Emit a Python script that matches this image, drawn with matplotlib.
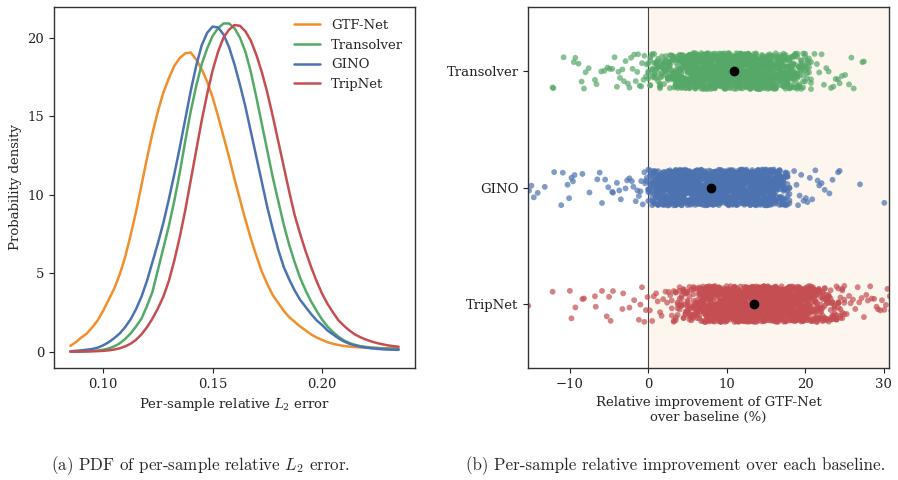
import numpy as np
import pandas as pd
import matplotlib
matplotlib.use("Agg")
import matplotlib.pyplot as plt
import seaborn as sns

# ---- (a) PDF curves at 0.0025 steps ----
err_x = [0.085, 0.0875, 0.090, 0.0925, 0.095, 0.0975, 0.100, 0.1025, 0.105, 0.1075,
         0.110, 0.1125, 0.115, 0.1175, 0.120, 0.1225, 0.125, 0.1275, 0.130, 0.1325,
         0.135, 0.1375, 0.140, 0.1425, 0.145, 0.1475, 0.150, 0.1525, 0.155, 0.1575,
         0.160, 0.1625, 0.165, 0.1675, 0.170, 0.1725, 0.175, 0.1775, 0.180, 0.1825,
         0.185, 0.1875, 0.190, 0.1925, 0.195, 0.1975, 0.200, 0.2025, 0.205, 0.2075,
         0.210, 0.2125, 0.215, 0.2175, 0.220, 0.2225, 0.225, 0.2275, 0.230, 0.2325,
         0.235]
pdf_gtf = [0.37, 0.6, 0.9, 1.15, 1.55, 2.0, 2.6, 3.3, 4.0, 4.9,
           6.0, 7.4, 8.9, 10.6, 12.3, 13.9, 15.3, 16.5, 17.4, 18.2,
           18.7, 19.0, 19.05, 18.6, 18.0, 17.2, 16.2, 15.0, 13.7, 12.4,
           11.0, 9.7, 8.4, 7.2, 6.1, 5.1, 4.3, 3.6, 3.1, 2.6,
           2.2, 1.9, 1.6, 1.35, 1.1, 0.9, 0.75, 0.6, 0.5, 0.42,
           0.36, 0.32, 0.29, 0.27, 0.25, 0.24, 0.23, 0.22, 0.21, 0.21,
           0.2]
pdf_transolver = [0.0, 0.0, 0.01, 0.02, 0.04, 0.07, 0.12, 0.2, 0.33, 0.52,
                  0.8, 1.15, 1.6, 2.1, 2.9, 3.8, 5.2, 6.6, 8.0, 9.6,
                  11.4, 13.4, 15.3, 16.9, 18.3, 19.3, 20.1, 20.6, 20.9, 20.9,
                  20.6, 20.0, 19.1, 17.8, 16.2, 14.5, 12.8, 11.1, 9.6, 8.1,
                  6.8, 5.7, 4.7, 3.9, 3.2, 2.6, 2.05, 1.6, 1.25, 0.95,
                  0.72, 0.55, 0.43, 0.35, 0.3, 0.26, 0.23, 0.21, 0.19, 0.18,
                  0.17]
pdf_gino = [0.02, 0.05, 0.08, 0.12, 0.17, 0.25, 0.4, 0.6, 0.85, 1.15,
            1.55, 2.05, 2.7, 3.5, 4.5, 5.7, 6.9, 8.2, 9.7, 11.3,
            13.0, 14.8, 16.6, 18.2, 19.5, 20.3, 20.7, 20.65, 20.2, 19.4,
            18.3, 17.0, 15.6, 14.0, 12.4, 10.8, 9.2, 7.8, 6.5, 5.4,
            4.6, 3.9, 3.3, 2.85, 2.4, 2.0, 1.7, 1.35, 1.1, 0.85,
            0.65, 0.5, 0.4, 0.32, 0.26, 0.21, 0.18, 0.15, 0.13, 0.12,
            0.11]
pdf_tripnet = [0.0, 0.0, 0.0, 0.01, 0.02, 0.03, 0.05, 0.08, 0.13, 0.21,
               0.33, 0.5, 0.75, 1.1, 1.55, 2.1, 2.75, 3.5, 4.5, 5.8,
               7.3, 9.0, 10.9, 12.8, 14.7, 16.4, 17.9, 19.1, 20.0, 20.5,
               20.8, 20.75, 20.4, 19.8, 18.9, 17.8, 16.5, 15.0, 13.4, 11.8,
               10.2, 8.7, 7.5, 6.4, 5.4, 4.5, 3.7, 3.05, 2.5, 2.0,
               1.65, 1.35, 1.1, 0.92, 0.77, 0.65, 0.55, 0.47, 0.4, 0.35,
               0.31]

# ---- (b) per-sample improvement (%): dense part as value/count, sparse tails as single points ----
baselines = ["Transolver", "GINO", "TripNet"]
mean_improvement = [10.9, 8.0, 13.5]

transolver_core = [0.0, 0.25, 0.5, 0.75, 1.0, 1.25, 1.5, 1.75, 2.0, 2.25, 2.5, 2.75,
                   3.0, 3.25, 3.5, 3.75, 4.0, 4.25, 4.5, 4.75, 5.0, 5.25, 5.5, 5.75,
                   6.0, 6.25, 6.5, 6.75, 7.0, 7.25, 7.5, 7.75, 8.0, 8.25, 8.5, 8.75,
                   9.0, 9.25, 9.5, 9.75, 10.0, 10.25, 10.5, 10.75, 11.0, 11.25, 11.5, 11.75,
                   12.0, 12.25, 12.5, 12.75, 13.0, 13.25, 13.5, 13.75, 14.0, 14.25, 14.5, 14.75,
                   15.0, 15.25, 15.5, 15.75, 16.0, 16.25, 16.5, 16.75, 17.0, 17.25, 17.5, 17.75,
                   18.0, 18.25, 18.5, 18.75, 19.0, 19.25, 19.5, 19.75, 20.0, 20.25, 20.5, 20.75]
transolver_count = [4, 4, 5, 5, 5, 6, 6, 6, 7, 7, 7, 8,
                    8, 9, 10, 11, 12, 13, 14, 16, 17, 18, 19, 20,
                    20, 20, 20, 20, 20, 20, 20, 20, 20, 20, 20, 20,
                    20, 20, 20, 20, 20, 20, 20, 20, 20, 20, 20, 20,
                    20, 20, 20, 20, 20, 20, 20, 20, 19, 19, 18, 18,
                    18, 17, 17, 17, 16, 16, 15, 15, 14, 14, 13, 12,
                    11, 10, 9, 9, 8, 8, 7, 6, 5, 5, 4, 4]
transolver_tail = [-12.2, -12.1, -10.8, -9.5, -9.3, -8.9, -8.5, -8.2, -8.0, -7.6, -6.8,
                   -6.6, -6.0, -5.6, -5.2, -4.9, -4.6, -4.3, -4.0, -3.8, -3.6, -3.3,
                   -3.1, -2.9, -2.6, -2.4, -2.2, -2.0, -1.8, -1.6, -1.4, -1.3, -1.1,
                   -0.9, -0.8, -0.6, -0.5, -0.3, -0.2,
                   21.2, 21.5, 21.8, 22.1, 22.4, 22.7, 23.0, 23.3, 23.6, 23.9, 24.2,
                   24.4, 24.7, 25.1, 25.6, 25.9, 26.2, 27.3, 27.5]

gino_core = [0.0, 0.25, 0.5, 0.75, 1.0, 1.25, 1.5, 1.75, 2.0, 2.25, 2.5, 2.75,
             3.0, 3.25, 3.5, 3.75, 4.0, 4.25, 4.5, 4.75, 5.0, 5.25, 5.5, 5.75,
             6.0, 6.25, 6.5, 6.75, 7.0, 7.25, 7.5, 7.75, 8.0, 8.25, 8.5, 8.75,
             9.0, 9.25, 9.5, 9.75, 10.0, 10.25, 10.5, 10.75, 11.0, 11.25, 11.5, 11.75,
             12.0, 12.25, 12.5, 12.75, 13.0, 13.25, 13.5, 13.75, 14.0, 14.25, 14.5, 14.75,
             15.0, 15.25, 15.5, 15.75, 16.0, 16.25, 16.5, 16.75, 17.0, 17.25, 17.5, 17.75,
             18.0]
gino_count = [5, 7, 9, 11, 13, 15, 17, 19, 20, 21, 21, 21,
              21, 21, 21, 21, 21, 21, 21, 21, 21, 21, 21, 21,
              21, 21, 21, 21, 21, 21, 21, 21, 21, 21, 21, 21,
              21, 21, 21, 21, 21, 21, 21, 21, 21, 21, 21, 21,
              21, 21, 21, 21, 21, 21, 21, 21, 21, 20, 20, 19,
              18, 18, 17, 16, 16, 15, 14, 13, 12, 10, 9, 7,
              5]
gino_tail = [-15.2, -14.9, -14.6, -14.1, -13.2, -12.0, -11.1, -10.9, -10.3, -10.1, -9.8,
             -9.6, -9.4, -8.4, -7.5, -6.5, -6.2, -5.9, -5.5, -5.1, -4.6, -4.5, -4.0,
             -3.7, -3.5, -2.9, -2.7, -2.4, -2.1, -1.9, -1.6, -1.4, -1.2, -1.0, -0.9,
             -0.7, -0.5, -0.4, -0.3, -0.2,
             18.6, 18.9, 19.1, 19.3, 19.5, 19.8, 20.1, 20.3, 20.6, 20.9, 21.3, 21.6,
             21.8, 22.1, 22.5, 23.1, 23.5, 24.2, 24.4, 27.0, 30.1]

tripnet_core = [3.0, 3.25, 3.5, 3.75, 4.0, 4.25, 4.5, 4.75, 5.0, 5.25, 5.5, 5.75,
                6.0, 6.25, 6.5, 6.75, 7.0, 7.25, 7.5, 7.75, 8.0, 8.25, 8.5, 8.75,
                9.0, 9.25, 9.5, 9.75, 10.0, 10.25, 10.5, 10.75, 11.0, 11.25, 11.5, 11.75,
                12.0, 12.25, 12.5, 12.75, 13.0, 13.25, 13.5, 13.75, 14.0, 14.25, 14.5, 14.75,
                15.0, 15.25, 15.5, 15.75, 16.0, 16.25, 16.5, 16.75, 17.0, 17.25, 17.5, 17.75,
                18.0, 18.25, 18.5, 18.75, 19.0, 19.25, 19.5, 19.75, 20.0, 20.25, 20.5, 20.75,
                21.0, 21.25, 21.5, 21.75, 22.0, 22.25, 22.5, 22.75, 23.0, 23.25, 23.5, 23.75,
                24.0, 24.25, 24.5, 24.75, 25.0]
tripnet_count = [3, 3, 4, 4, 5, 5, 6, 6, 7, 7, 8, 8,
                 9, 10, 11, 12, 14, 15, 17, 18, 19, 20, 21, 21,
                 21, 21, 21, 21, 21, 21, 21, 21, 21, 21, 21, 21,
                 21, 21, 21, 21, 21, 21, 21, 21, 21, 21, 21, 21,
                 21, 21, 21, 21, 21, 21, 21, 21, 21, 21, 21, 21,
                 21, 21, 21, 21, 21, 20, 19, 18, 17, 16, 14, 13,
                 12, 11, 10, 9, 8, 8, 7, 7, 6, 6, 6, 5,
                 5, 5, 4, 4, 4]
tripnet_tail = [-15.3, -12.2, -10.0, -9.8, -9.3, -8.4, -8.2, -6.8, -6.7, -5.9, -5.3,
                -5.0, -4.8, -4.5, -3.3, -3.2, -2.4, -1.8, -1.2, -1.0, -0.8, -0.5,
                -0.3, -0.1, 0.2, 0.5, 0.7, 1.0, 1.2, 1.5, 1.7, 1.9, 2.2, 2.4, 2.6, 2.8,
                25.3, 25.6, 25.8, 26.1, 26.4, 26.7, 26.9, 27.2, 27.5, 27.8, 28.0, 28.3,
                28.5, 28.8, 29.1, 29.3, 29.6, 29.8, 30.1, 30.3, 30.5, 30.8, 31.0, 31.3]

c_gtf = "#f28e2b"
c_transolver = "#55a868"
c_gino = "#4c72b0"
c_tripnet = "#c44e52"

sns.set_style("ticks")
plt.rcParams["font.family"] = ["DejaVu Serif"]
plt.rcParams["mathtext.fontset"] = "dejavuserif"
plt.rcParams["font.size"] = 9.5
plt.rcParams["axes.edgecolor"] = "#333333"
plt.rcParams["xtick.color"] = "#222222"
plt.rcParams["ytick.color"] = "#222222"

fig = plt.figure(figsize=(8.98, 4.8), dpi=100)
ax1 = fig.add_axes([0.0601, 0.2333, 0.402, 0.752])
ax2 = fig.add_axes([0.5883, 0.2333, 0.4017, 0.752])

# left panel
ax1.plot(err_x, pdf_gtf, color=c_gtf, lw=1.8, label="GTF-Net")
ax1.plot(err_x, pdf_transolver, color=c_transolver, lw=1.8, label="Transolver")
ax1.plot(err_x, pdf_gino, color=c_gino, lw=1.8, label="GINO")
ax1.plot(err_x, pdf_tripnet, color=c_tripnet, lw=1.8, label="TripNet")
ax1.set_xticks([0.10, 0.15, 0.20])
ax1.set_xticklabels(["0.10", "0.15", "0.20"])
ax1.set_yticks([0, 5, 10, 15, 20])
ax1.set_xlabel("Per-sample relative $L_2$ error")
ax1.set_ylabel("Probability density")
ax1.legend(loc="upper right", frameon=False)

# right panel
rows = []
for name, core, cnt, tail in [("Transolver", transolver_core, transolver_count, transolver_tail),
                              ("GINO", gino_core, gino_count, gino_tail),
                              ("TripNet", tripnet_core, tripnet_count, tripnet_tail)]:
    vals = list(np.repeat(core, cnt)) + list(tail)
    rows.append(pd.DataFrame({"baseline": name, "improvement": vals}))
df = pd.concat(rows, ignore_index=True)

ax2.axvspan(0, 40, color="#fdf6ef", zorder=0)
ax2.axvline(0, color="#444444", lw=0.8, zorder=1)
np.random.seed(3)
sns.stripplot(data=df, x="improvement", y="baseline", order=baselines, hue="baseline",
              hue_order=baselines, palette=[c_transolver, c_gino, c_tripnet],
              legend=False, jitter=0.155, size=4.2, alpha=0.7, linewidth=0, ax=ax2, zorder=2)
ax2.scatter(mean_improvement, [0, 1, 2], color="black", s=36, zorder=5)
ax2.set_xlim(-15.3, 30.7)
ax2.set_ylim(2.55, -0.55)
ax2.set_xticks([-10, 0, 10, 20, 30])
ax2.set_xlabel("Relative improvement of GTF-Net\nover baseline (%)")
ax2.set_ylabel("")

for ax in (ax1, ax2):
    for s in ax.spines.values():
        s.set_visible(True)
        s.set_linewidth(1.0)
    ax.tick_params(length=3.5, width=0.8)

# subfigure captions
fig.text(0.223, 0.021, "(a) PDF of per-sample relative $L_2$ error.", ha="center",
         va="baseline", family="cmr10", math_fontfamily="cm", fontsize=12.2)
fig.text(0.752, 0.021, "(b) Per-sample relative improvement over each baseline.", ha="center",
         va="baseline", family="cmr10", math_fontfamily="cm", fontsize=12.2)

fig.savefig("out.png", dpi=100)
